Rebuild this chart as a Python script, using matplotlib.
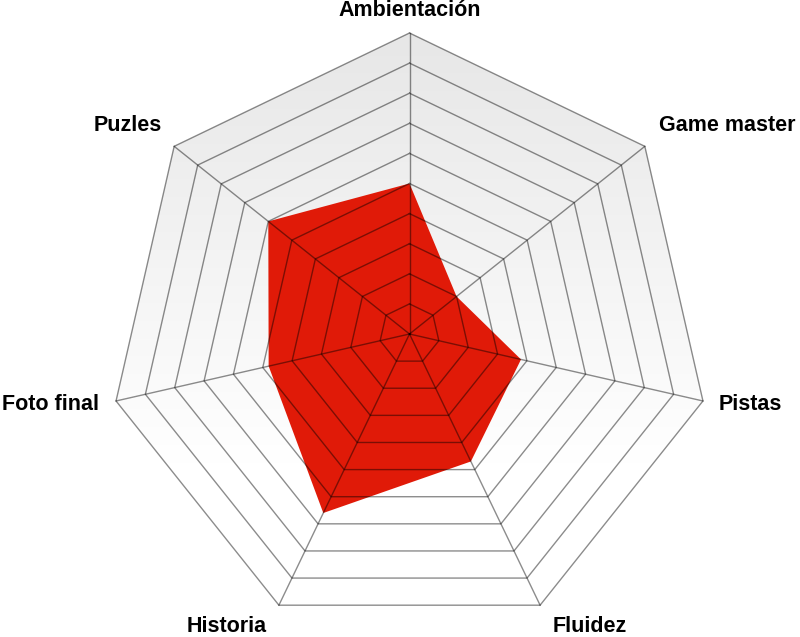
import numpy as np
import matplotlib.pyplot as plt
from matplotlib.patches import Polygon

categories = ['Ambientación', 'Game master', 'Pistas', 'Fluidez',
              'Historia', 'Foto final', 'Puzles']
values = [5, 2, 3.8, 4.7, 6.6, 4.8, 6]
levels = 10

n = len(categories)
ang = np.pi / 2 - np.arange(n) * 2 * np.pi / n  # clockwise from top

def pts(r):
    r = np.broadcast_to(r, ang.shape)
    return np.column_stack([r * np.cos(ang), r * np.sin(ang)])

fig = plt.figure(figsize=(8, 6.37), dpi=100)
ax = fig.add_axes([0, 0, 1, 1])
unit = 30.1
cx, cy = 409.5, 334
ax.set_xlim(-cx / unit, (800 - cx) / unit)
ax.set_ylim(-(637 - cy) / unit, cy / unit)
ax.axis('off')

# gradient background inside the outer ring
outer = Polygon(pts(levels), closed=True, facecolor='none', edgecolor='none')
ax.add_patch(outer)
grad = np.linspace(0.905, 1.0, 256)
grad = np.clip(np.concatenate([grad, np.ones(120)]), 0, 1)[:, None]
img = ax.imshow(np.dstack([grad, grad, grad]), extent=(-11, 11, -11, 10),
                origin='upper', aspect='auto', zorder=0,
                interpolation='bilinear')
img.set_clip_path(outer)

# data polygon
ax.add_patch(Polygon(pts(np.array(values)), closed=True,
                     facecolor='#e01a08', edgecolor='none', zorder=1))

# grid rings and spokes
for lv in range(1, levels + 1):
    p = pts(lv)
    p = np.vstack([p, p[:1]])
    ax.plot(p[:, 0], p[:, 1], color='black', alpha=0.45, lw=1, zorder=2)
for x, y in pts(levels):
    ax.plot([0, x], [0, y], color='black', alpha=0.45, lw=1, zorder=2)

# labels
label_pos = [(0.02, 10.76), (10.55, 6.94), (11.31, -2.33),
             (6.0, -9.73), (-6.06, -9.73), (-11.94, -2.33), (-9.35, 6.94)]
for name, (x, y) in zip(categories, label_pos):
    ax.text(x, y, name, ha='center', va='center', fontsize=15.5,
            fontweight='bold', family='Liberation Sans')

fig.savefig('out.png', dpi=100)
